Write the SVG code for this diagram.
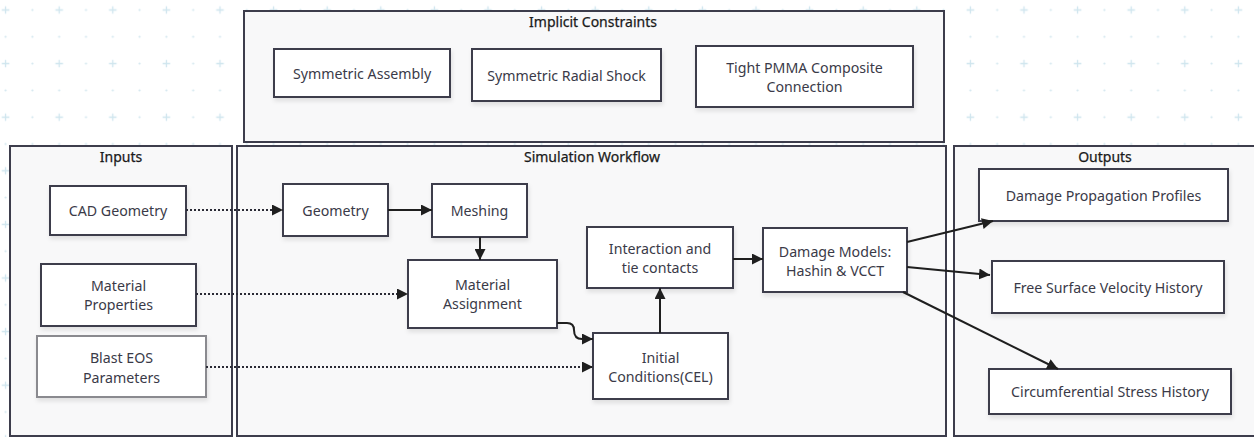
<svg xmlns="http://www.w3.org/2000/svg" width="1254" height="437" viewBox="0 0 1254 437">
<defs>
<pattern id="grid" patternUnits="userSpaceOnUse" x="45.8" y="-3.4" width="53.6" height="53.6">
<path d="M9.6,13.4 H17.2 M13.4,9.6 V17.2" stroke="#cfe5ee" stroke-width="1.3"/>
<circle cx="40.2" cy="13.4" r="1.1" fill="#d3e7ef"/>
<circle cx="13.4" cy="40.2" r="1.1" fill="#d3e7ef"/>
<circle cx="40.2" cy="40.2" r="1.1" fill="#d3e7ef"/>
</pattern>
<marker id="ah" viewBox="0 0 10 10" refX="10" refY="5" markerUnits="userSpaceOnUse" markerWidth="11" markerHeight="11" orient="auto">
<path d="M0,0 L10,5 L0,10 z" fill="#1f1f1f"/>
</marker>
<filter id="sh" x="-10%" y="-10%" width="130%" height="140%">
<feDropShadow dx="1" dy="3" stdDeviation="2" flood-color="#000" flood-opacity="0.10"/>
</filter>
</defs>
<style>
.cont{fill:#f8f8f9;stroke:#3d3d4c;stroke-width:2}
.node{fill:#ffffff;stroke:#3d3d4c;stroke-width:2;filter:url(#sh)}
.node2{fill:#ffffff;stroke:#8a8a8f;stroke-width:2;filter:url(#sh)}
.t{font-family:"Noto Sans","Open Sans","Liberation Sans",sans-serif;font-size:14.2px;fill:#3a3a48;text-anchor:middle;dominant-baseline:central}
.title{font-family:"Noto Sans","Open Sans","Liberation Sans",sans-serif;font-size:14px;fill:#1a1a1a;text-anchor:middle;dominant-baseline:central;stroke:#1a1a1a;stroke-width:0.25}
.edge{fill:none;stroke:#1f1f1f;stroke-width:2;marker-end:url(#ah)}
.dot{fill:none;stroke:#2a2a35;stroke-width:2;stroke-dasharray:2 2;marker-end:url(#ah)}
</style>
<rect x="0" y="0" width="1254" height="437" fill="#ffffff"/>
<rect x="0" y="0" width="1254" height="437" fill="url(#grid)"/>

<g id="implicit-constraints">
<rect class="cont" x="244" y="11" width="700" height="131"/>
<text class="title" x="593" y="21">Implicit Constraints</text>
</g>
<g id="inputs">
<rect class="cont" x="10" y="146" width="222" height="290"/>
<text class="title" x="121" y="156">Inputs</text>
</g>
<g id="simulation-workflow">
<rect class="cont" x="237" y="146" width="709" height="290"/>
<text class="title" x="592" y="156">Simulation Workflow</text>
</g>
<g id="outputs">
<rect class="cont" x="954" y="146" width="312" height="290"/>
<text class="title" x="1105" y="156">Outputs</text>
</g>

<g id="symmetric-assembly">
<rect class="node" x="274" y="49" width="176" height="48"/>
<text class="t" x="362" y="73">Symmetric Assembly</text>
</g>
<g id="symmetric-radial-shock">
<rect class="node" x="472" y="49" width="189" height="52"/>
<text class="t" x="566.5" y="75">Symmetric Radial Shock</text>
</g>
<g id="tight-pmma">
<rect class="node" x="696" y="46" width="217" height="61"/>
<text class="t" x="804.5" y="67">Tight PMMA Composite</text>
<text class="t" x="804.5" y="86">Connection</text>
</g>

<g id="cad-geometry">
<rect class="node" x="50" y="186" width="136" height="49"/>
<text class="t" x="118" y="210.5">CAD Geometry</text>
</g>
<g id="material-properties">
<rect class="node" x="41" y="264" width="155" height="62"/>
<text class="t" x="118.5" y="285">Material</text>
<text class="t" x="118.5" y="304">Properties</text>
</g>
<g id="blast-eos">
<rect class="node2" x="37" y="336" width="169" height="61"/>
<text class="t" x="121.5" y="357">Blast EOS</text>
<text class="t" x="121.5" y="377">Parameters</text>
</g>

<g id="geometry">
<rect class="node" x="283" y="184" width="105" height="52"/>
<text class="t" x="335.5" y="210">Geometry</text>
</g>
<g id="meshing">
<rect class="node" x="432" y="184" width="95" height="53"/>
<text class="t" x="479.5" y="210.5">Meshing</text>
</g>
<g id="material-assignment">
<rect class="node" x="408" y="260" width="149" height="68"/>
<text class="t" x="482.5" y="284">Material</text>
<text class="t" x="482.5" y="303">Assignment</text>
</g>
<g id="interaction">
<rect class="node" x="587" y="227" width="146" height="61"/>
<text class="t" x="660" y="248">Interaction and</text>
<text class="t" x="660" y="267">tie contacts</text>
</g>
<g id="initial-conditions">
<rect class="node" x="593" y="333" width="135" height="66"/>
<text class="t" x="660.5" y="357">Initial</text>
<text class="t" x="660.5" y="376">Conditions(CEL)</text>
</g>
<g id="damage-models">
<rect class="node" x="763" y="228" width="144" height="64"/>
<text class="t" x="835" y="251">Damage Models:</text>
<text class="t" x="835" y="270">Hashin &amp; VCCT</text>
</g>

<g id="damage-propagation">
<rect class="node" x="979" y="169" width="249" height="52"/>
<text class="t" x="1103.5" y="195">Damage Propagation Profiles</text>
</g>
<g id="free-surface">
<rect class="node" x="992" y="261" width="232" height="52"/>
<text class="t" x="1108" y="287">Free Surface Velocity History</text>
</g>
<g id="circumferential">
<rect class="node" x="989" y="369" width="242" height="45"/>
<text class="t" x="1110" y="391.5">Circumferential Stress History</text>
</g>

<g id="connectors">
<path class="dot" d="M186,210 L283,210"/>
<path class="edge" d="M388,210 L432,210"/>
<path class="edge" d="M480,237 L480,260"/>
<path class="dot" d="M196,294 L408,294"/>
<path class="dot" d="M206,367 L593,367"/>
<path class="edge" d="M557,323 L567,323 Q574,323 574,330 Q574,339 582,339 L593,339"/>
<path class="edge" d="M660,333 L660,288"/>
<path class="edge" d="M733,259 L763,259"/>
<path class="edge" d="M907,242 L993,221"/>
<path class="edge" d="M907,267 L990,275"/>
<path class="edge" d="M903,292 L1058,369"/>
</g>
</svg>
